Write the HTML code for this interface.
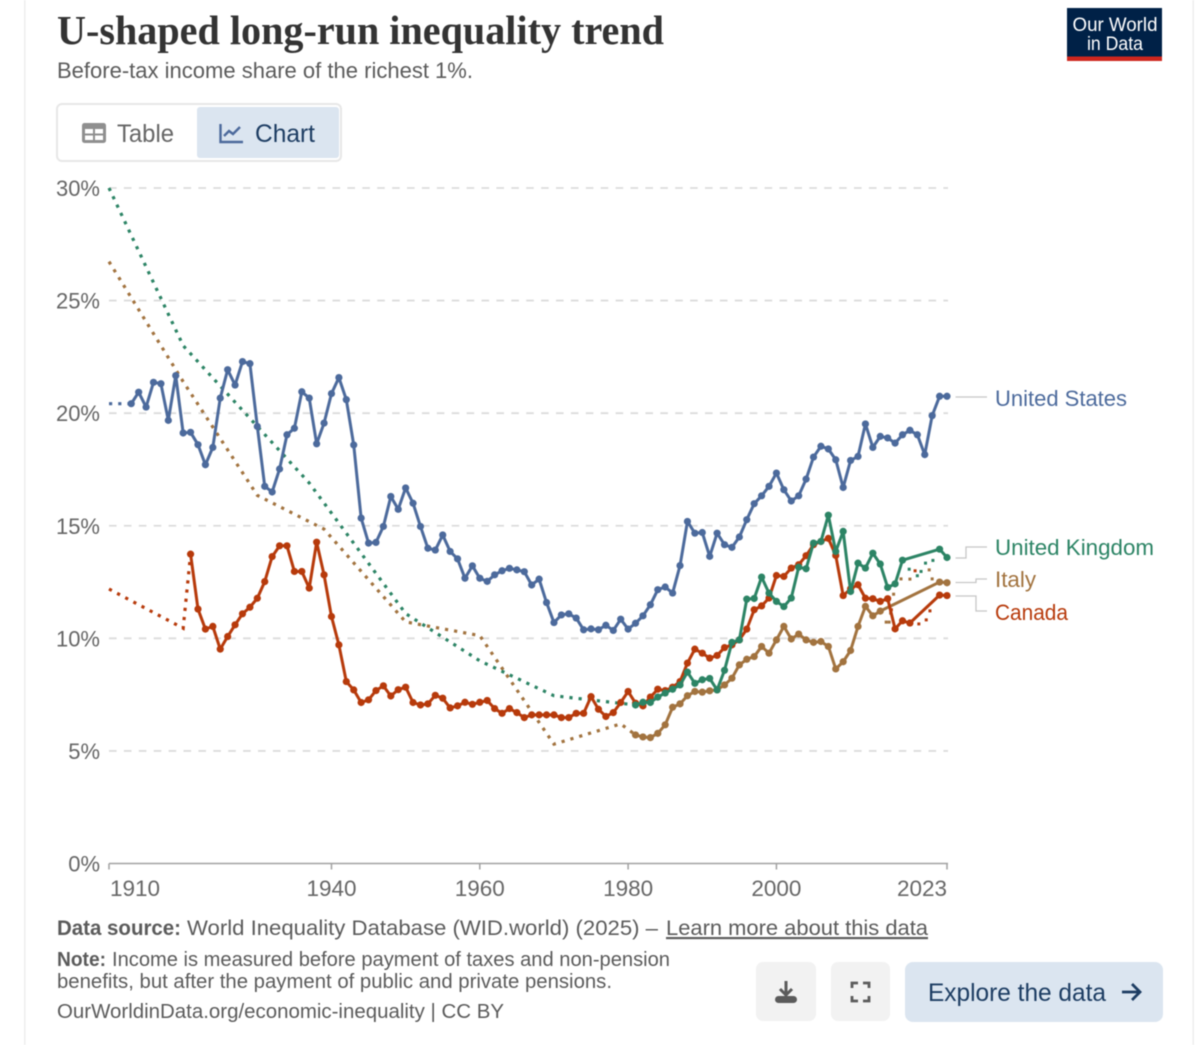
<!DOCTYPE html>
<html lang="en">
<head>
<meta charset="utf-8">
<title>U-shaped long-run inequality trend</title>
<style>
html,body{margin:0;padding:0;background:#fff;width:1200px;height:1045px;overflow:hidden}
svg{display:block;filter:blur(0.4px)}
text{font-family:"Liberation Sans",sans-serif}
</style>
</head>
<body>
<svg id="page" xmlns="http://www.w3.org/2000/svg" width="1200" height="1045" viewBox="0 0 1200 1045">
  <rect x="24" y="0" width="1.5" height="1045" fill="#eeeeee"/>
  <rect x="1192.5" y="0" width="1.5" height="1045" fill="#eeeeee"/>

  <text x="57" y="44" font-size="41" font-weight="700" fill="#333333" textLength="607" lengthAdjust="spacingAndGlyphs" style="font-family:'Liberation Serif',serif">U-shaped long-run inequality trend</text>
  <text x="57" y="78" font-size="22" fill="#5b5b5b" textLength="416" lengthAdjust="spacingAndGlyphs">Before-tax income share of the richest 1%.</text>

  <g>
    <rect x="1067" y="8" width="95" height="53" fill="#002147"/>
    <rect x="1067" y="56.5" width="95" height="4.5" fill="#ce261e"/>
    <text x="1115" y="31" font-size="19.5" fill="#fff" text-anchor="middle" textLength="85" lengthAdjust="spacingAndGlyphs">Our World</text>
    <text x="1115" y="50" font-size="19.5" fill="#fff" text-anchor="middle" textLength="56" lengthAdjust="spacingAndGlyphs">in Data</text>
  </g>

  <g>
    <rect x="57" y="104" width="284" height="57" rx="5" fill="#fff" stroke="#e7e7e7" stroke-width="2"/>
    <g>
      <rect x="82" y="123" width="24" height="20" rx="2.5" fill="#8f8f8f"/>
      <rect x="85" y="129" width="8" height="4.5" fill="#fff"/>
      <rect x="95" y="129" width="8" height="4.5" fill="#fff"/>
      <rect x="85" y="135.5" width="8" height="4.5" fill="#fff"/>
      <rect x="95" y="135.5" width="8" height="4.5" fill="#fff"/>
      <text x="117" y="142" font-size="25" fill="#666666" textLength="57" lengthAdjust="spacingAndGlyphs">Table</text>
    </g>
    <g>
      <rect x="197" y="107" width="142" height="51" rx="3" fill="#dbe5f0"/>
      <path d="M220.5 124v18h22.5M224 136l5-5 4 3 7-7" fill="none" stroke="#4c6a9c" stroke-width="2.4"/>
      <text x="255" y="142" font-size="25" fill="#1d3d63" textLength="60" lengthAdjust="spacingAndGlyphs">Chart</text>
    </g>
  </g>

  <g id="plot"></g>

  <g>
    <text x="57" y="935" font-size="21.5" font-weight="700" fill="#5b5b5b" textLength="124" lengthAdjust="spacingAndGlyphs">Data source:</text>
    <text x="187" y="935" font-size="21.5" fill="#5b5b5b" textLength="471" lengthAdjust="spacingAndGlyphs">World Inequality Database (WID.world) (2025) –</text>
    <text x="666" y="935" font-size="21.5" fill="#5b5b5b" textLength="262" lengthAdjust="spacingAndGlyphs" text-decoration="underline">Learn more about this data</text>
    <text x="57" y="966" font-size="20.5" font-weight="700" fill="#5b5b5b" textLength="49" lengthAdjust="spacingAndGlyphs">Note:</text>
    <text x="112" y="966" font-size="20.5" fill="#5b5b5b" textLength="558" lengthAdjust="spacingAndGlyphs">Income is measured before payment of taxes and non-pension</text>
    <text x="57" y="988" font-size="20.5" fill="#5b5b5b" textLength="555" lengthAdjust="spacingAndGlyphs">benefits, but after the payment of public and private pensions.</text>
    <text x="57" y="1018" font-size="20.5" fill="#5b5b5b" textLength="447" lengthAdjust="spacingAndGlyphs">OurWorldinData.org/economic-inequality | CC BY</text>
  </g>

  <g>
    <rect x="756" y="962" width="60" height="59" rx="7" fill="#f2f2f2"/>
    <path d="M786 981v13M780 989l6 6 6-6" fill="none" stroke="#5b5b5b" stroke-width="3"/>
    <rect x="775" y="996" width="22" height="7" rx="3.5" fill="#5b5b5b"/>
  </g>
  <g>
    <rect x="831" y="962" width="59" height="59" rx="7" fill="#f2f2f2"/>
    <path d="M852 988v-5h6M863 983h6v5M869 996v5h-6M858 1001h-6v-5" fill="none" stroke="#5b5b5b" stroke-width="2.8"/>
  </g>
  <g>
    <rect x="905" y="962" width="258" height="60" rx="8" fill="#dbe5f0"/>
    <text x="928" y="1001" font-size="25" fill="#1d3d63" textLength="178" lengthAdjust="spacingAndGlyphs">Explore the data</text>
    <path d="M1122 992h17M1132 984l8 8-8 8" fill="none" stroke="#1d3d63" stroke-width="2.8"/>
  </g>
</svg>

<script>
const yTickValues = [0, 5, 10, 15, 20, 25, 30];
const yTickLabels = ["0%", "5%", "10%", "15%", "20%", "25%", "30%"];
const xTickYears = [1910, 1940, 1960, 1980, 2000, 2023];
const xTickLabels = ["1910", "1940", "1960", "1980", "2000", "2023"];

const usDottedYears = [1910, 1913];
const usDottedValues = [20.42, 20.42];
const ukDottedYears = [1910, 1920, 1937, 1950, 1960, 1970, 1981];
const ukDottedValues = [30, 23.0, 16.9, 11.1, 9.0, 7.45, 7.04];
const italyDottedYears = [1910, 1920, 1930, 1939, 1950, 1960, 1970, 1979, 1981];
const italyDottedValues = [26.73, 21.4, 16.35, 14.85, 10.73, 10.12, 5.3, 6.2, 5.71];
const canadaDottedYears = [1910, 1920, 1921];
const canadaDottedValues = [12.19, 10.45, 13.74];

const usYears = [1913,1914,1915,1916,1917,1918,1919,1920,1921,1922,1923,1924,1925,1926,1927,1928,1929,1930,1931,1932,1933,1934,1935,1936,1937,1938,1939,1940,1941,1942,1943,1944,1945,1946,1947,1948,1949,1950,1951,1952,1953,1954,1955,1956,1957,1958,1959,1960,1961,1962,1963,1964,1965,1966,1967,1968,1969,1970,1971,1972,1973,1974,1975,1976,1977,1978,1979,1980,1981,1982,1983,1984,1985,1986,1987,1988,1989,1990,1991,1992,1993,1994,1995,1996,1997,1998,1999,2000,2001,2002,2003,2004,2005,2006,2007,2008,2009,2010,2011,2012,2013,2014,2015,2016,2017,2018,2019,2020,2021,2022,2023];
const usValues = [20.42,20.93,20.27,21.37,21.31,19.68,21.67,19.12,19.15,18.6,17.71,18.48,20.67,21.93,21.25,22.29,22.2,19.41,16.75,16.5,17.52,19.04,19.33,20.95,20.67,18.64,19.56,20.87,21.58,20.6,18.59,15.34,14.23,14.26,14.97,16.3,15.73,16.68,16.0,14.97,14.0,13.92,14.59,13.86,13.53,12.67,13.22,12.67,12.53,12.82,13.0,13.11,13.04,12.96,12.37,12.63,11.59,10.7,11.04,11.09,10.9,10.38,10.42,10.38,10.58,10.35,10.85,10.41,10.67,11.0,11.49,12.16,12.28,12.01,13.23,15.19,14.67,14.7,13.64,14.67,14.16,14.04,14.5,15.27,15.98,16.33,16.75,17.34,16.6,16.1,16.33,17.07,18.05,18.53,18.41,17.93,16.7,17.9,18.08,19.52,18.48,18.97,18.9,18.67,19.04,19.24,19.04,18.16,19.89,20.75,20.75];

const ukYears = [1981,1982,1983,1984,1985,1986,1987,1988,1989,1990,1991,1992,1993,1994,1995,1996,1997,1998,1999,2000,2001,2002,2003,2004,2005,2006,2007,2008,2009,2010,2011,2012,2013,2014,2015,2016,2017,2022,2023];
const ukValues = [7.04,7.16,7.15,7.39,7.57,7.74,7.93,8.5,8.0,8.16,8.22,7.71,8.58,9.82,9.93,11.74,11.77,12.72,12.01,11.64,11.41,11.79,13.16,13.09,14.23,14.3,15.47,13.86,14.75,12.08,13.34,13.12,13.78,13.3,12.26,12.42,13.47,13.96,13.59];

const italyYears = [1981,1982,1983,1984,1985,1986,1987,1988,1989,1990,1991,1992,1993,1994,1995,1996,1997,1998,1999,2000,2001,2002,2003,2004,2005,2006,2007,2008,2009,2010,2011,2012,2013,2014,2022,2023];
const italyValues = [5.71,5.62,5.59,5.78,6.16,6.94,7.09,7.45,7.64,7.61,7.67,7.71,7.93,8.23,8.82,9.07,9.19,9.64,9.34,9.93,10.53,9.97,10.19,9.93,9.82,9.86,9.64,8.64,8.96,9.46,10.53,11.42,11.0,11.21,12.5,12.47];

const canadaYears = [1921,1922,1923,1924,1925,1926,1927,1928,1929,1930,1931,1932,1933,1934,1935,1936,1937,1938,1939,1940,1941,1942,1943,1944,1945,1946,1947,1948,1949,1950,1951,1952,1953,1954,1955,1956,1957,1958,1959,1960,1961,1962,1963,1964,1965,1966,1967,1968,1969,1970,1971,1972,1973,1974,1975,1976,1977,1978,1979,1980,1981,1982,1983,1984,1985,1986,1987,1988,1989,1990,1991,1992,1993,1994,1995,1996,1997,1998,1999,2000,2001,2002,2003,2004,2005,2006,2007,2008,2009,2010,2011,2012,2013,2014,2015,2016,2017,2018,2022,2023];
const canadaValues = [13.74,11.3,10.41,10.53,9.52,10.08,10.6,11.09,11.38,11.78,12.52,13.63,14.11,14.11,12.97,12.97,12.23,14.27,12.82,10.97,9.71,8.08,7.71,7.15,7.27,7.68,7.89,7.44,7.72,7.83,7.15,7.04,7.09,7.47,7.34,6.91,7.0,7.16,7.07,7.16,7.24,6.88,6.67,6.88,6.7,6.48,6.6,6.6,6.6,6.6,6.48,6.48,6.67,6.67,7.41,6.85,6.53,6.7,7.15,7.64,7.12,7.0,7.39,7.74,7.68,7.83,8.08,8.9,9.52,9.34,9.12,9.24,9.59,9.71,9.93,10.41,11.27,11.44,11.79,12.79,12.75,13.12,13.27,13.67,14.16,14.3,14.44,13.68,11.9,12.2,12.38,11.78,11.76,11.64,11.76,10.42,10.78,10.68,11.92,11.9];

const italyTailYears = [2014.8,2015.2,2015.4,2015.8,2016.8,2018,2020.6,2021];
const italyTailValues = [10.72,10.72,11.12,11.96,12.64,12.63,13.04,12.64];
const ukTailYears = [2017.9,2019,2019.5,2020.1,2021.1];
const ukTailValues = [13.07,12.78,12.97,13.34,13.46];
const canadaTailYears = [2015.5,2018.7,2019.2,2020.2,2020.7];
const canadaTailValues = [11.27,13.0,10.64,10.82,11.22];

const plotLeft = 109, plotRight = 947, plotBottom = 863.5, plotTop = 188;
function xScale(year) { return plotLeft + (year - 1910) * (plotRight - plotLeft) / (2023 - 1910); }
function yScale(value) { return plotBottom - value * (plotBottom - plotTop) / 30; }

const NS = 'http://www.w3.org/2000/svg';
const plot = document.getElementById('plot');
function make(tag, attrs, parent) {
  const el = document.createElementNS(NS, tag);
  for (const k in attrs) el.setAttribute(k, attrs[k]);
  (parent || plot).appendChild(el);
  return el;
}
function pointsOf(years, values) {
  return years.map(function (y, i) { return xScale(y).toFixed(2) + ',' + yScale(values[i]).toFixed(2); }).join(' ');
}

yTickValues.forEach(function (v, i) {
  if (v > 0) {
    const grid = make('line', {x1: plotLeft, x2: plotRight + 1, y1: yScale(v), y2: yScale(v), stroke: '#dcdcdc', 'stroke-width': 1.8, 'stroke-dasharray': '7.6,7.3'});
    
    
  }
  const label = make('text', {x: 100, y: yScale(v) + 8, 'text-anchor': 'end', 'font-size': 22, fill: '#666666'});
  
  
  label.textContent = yTickLabels[i];
});

const axisLine = make('line', {x1: plotLeft, x2: plotRight + 1, y1: yScale(0), y2: yScale(0), stroke: '#a1a1a1', 'stroke-width': 1.5});



xTickYears.forEach(function (yr, i) {
  const tick = make('line', {x1: xScale(yr), x2: xScale(yr), y1: yScale(0), y2: yScale(0) + 6, stroke: '#a1a1a1', 'stroke-width': 1.5});
  
  
  const anchor = i === 0 ? 'start' : (i === xTickYears.length - 1 ? 'end' : 'middle');
  const label = make('text', {x: xScale(yr) + (i === 0 ? 1 : 0), y: 896, 'text-anchor': anchor, 'font-size': 22.5, fill: '#666666'});
  
  
  label.textContent = xTickLabels[i];
});

const usColor = '#4c6a9c', ukColor = '#2c8465', italyColor = '#a2733f', canadaColor = '#b73a0b';

function dotted(years, values, color, name) {
  const line = make('polyline', {points: pointsOf(years, values), fill: 'none', stroke: color, 'stroke-width': 3.2, 'stroke-dasharray': '3.2,6'});
  
  
}
function tail(years, values, color, name) {
  years.forEach(function (y, i) {
    const dot = make('rect', {x: xScale(y) - 1.5, y: yScale(values[i]) - 1.5, width: 3, height: 3, fill: color});
    
    
  });
}
function solid(years, values, color, name) {
  const group = make('g', {});
  
  
  const line = make('polyline', {points: pointsOf(years, values), fill: 'none', stroke: color, 'stroke-width': 3, 'stroke-linejoin': 'round'}, group);
  
  
  years.forEach(function (y, i) {
    const point = make('circle', {cx: xScale(y), cy: yScale(values[i]), r: 3.6, fill: color}, group);
    
    
  });
}

dotted(italyDottedYears, italyDottedValues, italyColor, 'italy-dotted-line');
dotted(ukDottedYears, ukDottedValues, ukColor, 'uk-dotted-line');
dotted(canadaDottedYears, canadaDottedValues, canadaColor, 'canada-dotted-line');
dotted(usDottedYears, usDottedValues, usColor, 'us-dotted-line');
tail(italyTailYears, italyTailValues, italyColor, 'italy-tail-dot');
tail(ukTailYears, ukTailValues, ukColor, 'uk-tail-dot');
tail(canadaTailYears, canadaTailValues, canadaColor, 'canada-tail-dot');
solid(italyYears, italyValues, italyColor, 'italy');
solid(canadaYears, canadaValues, canadaColor, 'canada');
solid(ukYears, ukValues, ukColor, 'uk');
solid(usYears, usValues, usColor, 'us');

const seriesLabels = ["United States", "United Kingdom", "Italy", "Canada"];
const seriesLabelColors = [usColor, ukColor, italyColor, canadaColor];
const seriesLabelNames = ["us-label", "uk-label", "italy-label", "canada-label"];
const seriesLabelBaselines = [406, 555, 587, 620];
const seriesLabelWidths = [132, 159, 41, 73];
const connectorPaths = ["M955.5 397H987", "M955.5 558H966V547H987", "M955.5 582.5H976V579H987", "M955.5 596H976V611H987"];

seriesLabels.forEach(function (txt, i) {
  const conn = make('path', {d: connectorPaths[i], fill: 'none', stroke: '#c6c6c6', 'stroke-width': 1.3});
  
  
  const label = make('text', {x: 995, y: seriesLabelBaselines[i], 'font-size': 22.5, fill: seriesLabelColors[i], textLength: seriesLabelWidths[i], lengthAdjust: 'spacingAndGlyphs'});
  
  
  label.textContent = txt;
});
</script>
</body>
</html>
